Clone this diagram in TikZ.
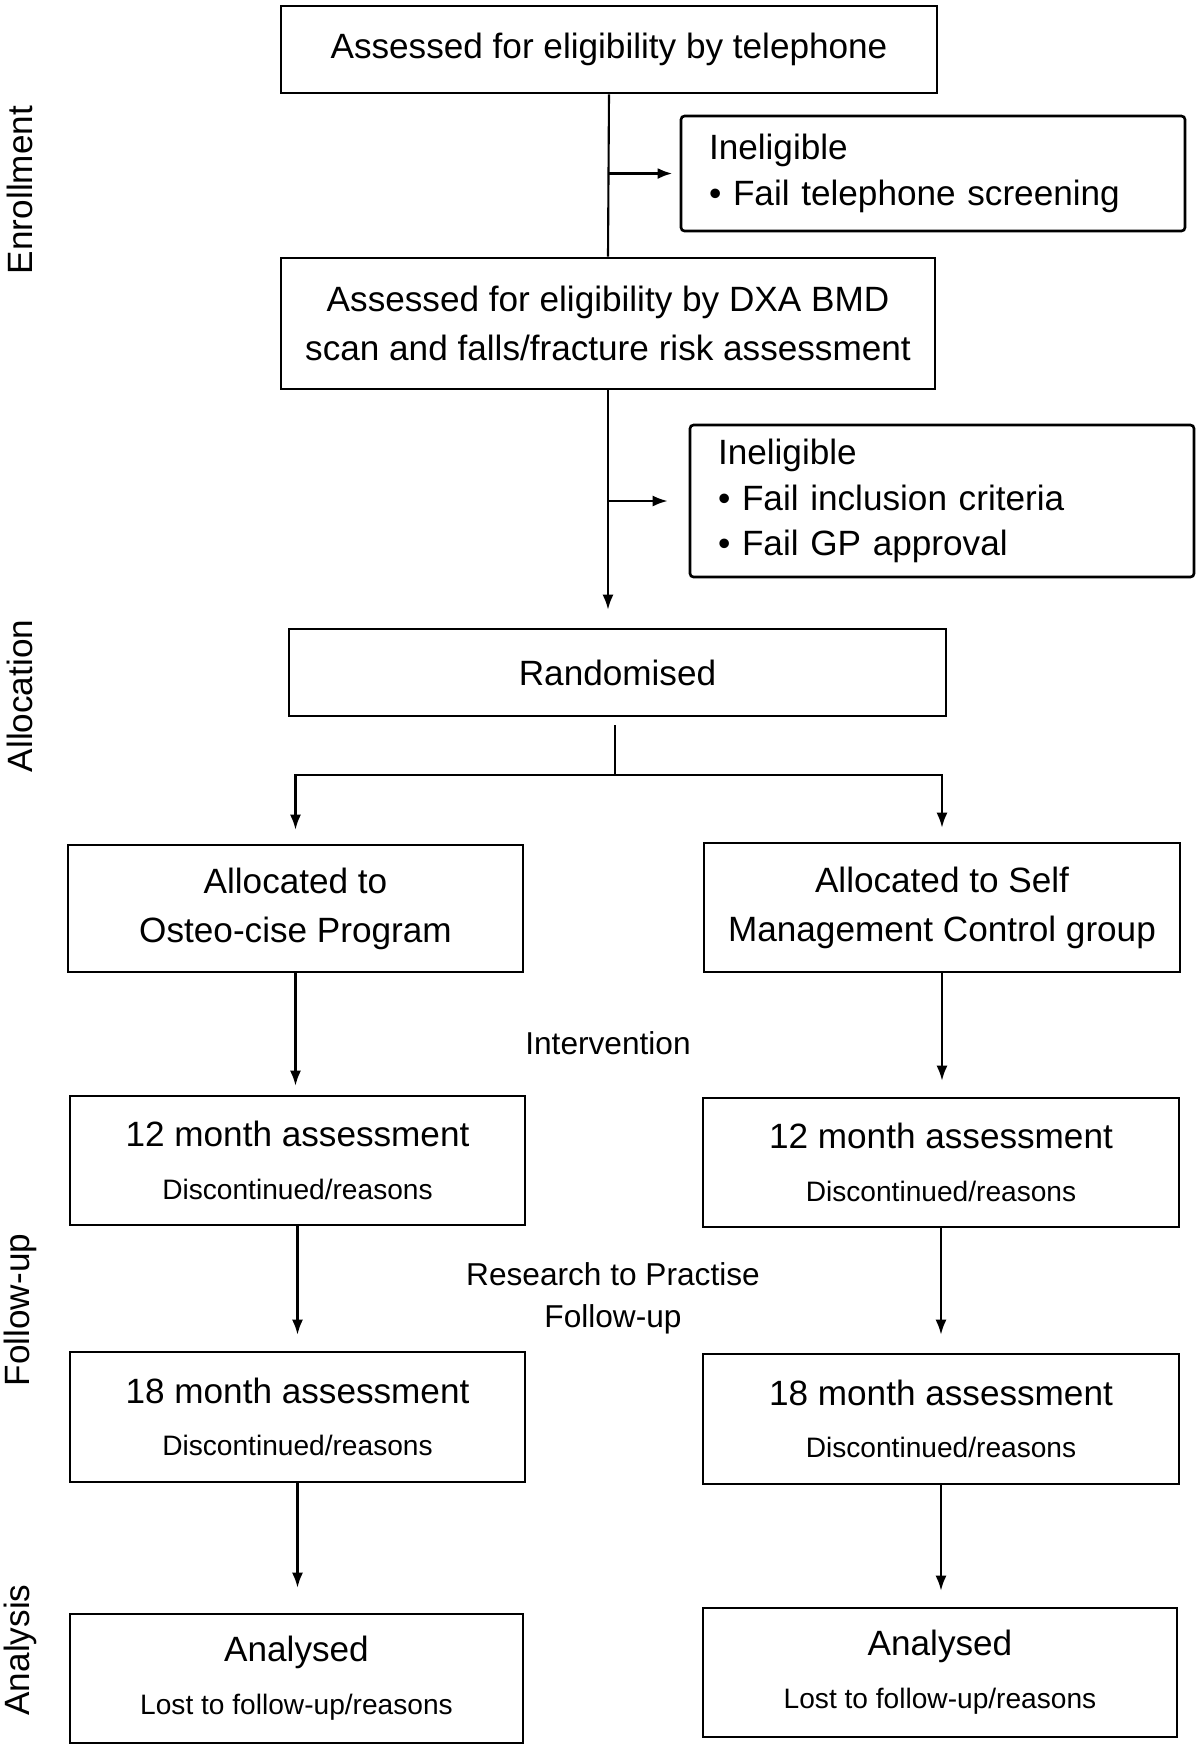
\documentclass[tikz,border=0pt]{standalone}
\usepackage{fontspec}
\setmainfont{Liberation Sans}
\usetikzlibrary{arrows.meta}
\tikzset{
  box/.style={draw, line width=0.75pt, align=center, inner sep=0pt, font=\fontsize{10}{14}\selectfont},
  twobox/.style={box, font=\fontsize{10}{15}\selectfont},
  inelbox/.style={draw, line width=0.75pt, rounded corners=1pt, align=left, inner xsep=0.28cm, inner ysep=0pt, text width=4.48cm, font=\fontsize{10}{13}\selectfont},
  note/.style={align=center, font=\fontsize{9}{12}\selectfont},
  side/.style={rotate=90, font=\fontsize{10}{12}\selectfont},
  conn/.style={line width=0.6pt},
  arrow/.style={conn, -{Latex[length=1.5mm,width=1.1mm]}}
}
\newcommand{\subreason}[1]{{\fontsize{8}{8}\selectfont #1}}
\begin{document}
\begin{tikzpicture}
            \useasboundingbox (0,0) rectangle (12,-17.48);
            \begin{scope}
                \node[name=tel, box, minimum width=6.56cm, minimum height=0.87cm] at (6.09,-0.495) (tel) {Assessed for eligibility by telephone};
                \node[name=inel1, inelbox, minimum height=1.15cm] at (9.33,-1.735) (inel1) {Ineligible\\\textbullet\ Fail telephone screening};
                \node[name=dxa, box, minimum width=6.54cm, minimum height=1.31cm] at (6.08,-3.235) (dxa) {Assessed for eligibility by DXA BMD\\scan and falls/fracture risk assessment};
                \node[name=inel2, inelbox, minimum height=1.52cm] at (9.42,-5.01) (inel2) {Ineligible\\\textbullet\ Fail inclusion criteria\\\textbullet\ Fail GP approval};
                \node[name=rand, box, minimum width=6.57cm, minimum height=0.87cm] at (6.175,-6.725) (rand) {Randomised};
                \node[name=allocL, box, minimum width=4.55cm, minimum height=1.27cm] at (2.955,-9.085) (allocL) {Allocated to\\Osteo-cise Program};
                \node[name=allocR, box, minimum width=4.76cm, minimum height=1.29cm] at (9.42,-9.075) (allocR) {Allocated to Self\\Management Control group};
                \node[name=m12L, twobox, minimum width=4.55cm, minimum height=1.29cm] at (2.975,-11.605) (m12L) {12 month assessment\\\subreason{Discontinued/reasons}};
                \node[name=m12R, twobox, minimum width=4.76cm, minimum height=1.29cm] at (9.41,-11.625) (m12R) {12 month assessment\\\subreason{Discontinued/reasons}};
                \node[name=m18L, twobox, minimum width=4.55cm, minimum height=1.30cm] at (2.975,-14.17) (m18L) {18 month assessment\\\subreason{Discontinued/reasons}};
                \node[name=m18R, twobox, minimum width=4.76cm, minimum height=1.30cm] at (9.41,-14.19) (m18R) {18 month assessment\\\subreason{Discontinued/reasons}};
                \node[name=anL, twobox, minimum width=4.53cm, minimum height=1.29cm] at (2.965,-16.785) (anL) {Analysed\\\subreason{Lost to follow-up/reasons}};
                \node[name=anR, twobox, minimum width=4.74cm, minimum height=1.29cm] at (9.40,-16.725) (anR) {Analysed\\\subreason{Lost to follow-up/reasons}};
                \node[name=interv, note] at (6.08,-10.43) (interv) {Intervention};
                \node[name=rtp, note] at (6.13,-12.98) (rtp) {Research to Practise\\Follow-up};
                \node[name=enrol, side] at (0.20,-1.90) (enrol) {Enrollment};
                \node[name=alloc, side] at (0.20,-6.96) (alloc) {Allocation};
                \node[name=follow, side] at (0.20,-13.10) (follow) {Follow-up};
                \node[name=analysis, side] at (0.20,-16.50) (analysis) {Analysis};
                \coordinate (split) at (6.15,-7.75);
                \draw[conn] (tel.south) -- (dxa.south |- dxa.north);
                \draw[arrow, line width=1.1pt, shorten >=0.07cm] (tel.south |- inel1.west) -- (inel1.west);
                \draw[arrow, shorten >=0.18cm] (dxa.south) -- (dxa.south |- rand.north);
                \draw[arrow, shorten >=0.21cm] (dxa.south |- inel2.west) -- (inel2.west);
                \draw[conn] ([yshift=-0.08cm]split |- rand.south) -- (split);
                \draw[arrow, shorten >=0.14cm] (split) -| (allocL.north);
                \draw[arrow, shorten >=0.14cm] (split) -| (allocR.north);
                \draw[arrow, shorten >=0.09cm] (allocL.south) -- (allocL.south |- m12L.north);
                \draw[arrow, shorten >=0.16cm] (allocR.south) -- (allocR.south |- m12R.north);
                \draw[arrow, shorten >=0.16cm] (m12L.south) -- (m12L.south |- m18L.north);
                \draw[arrow, shorten >=0.18cm] (m12R.south) -- (m12R.south |- m18R.north);
                \draw[arrow, shorten >=0.25cm] (m18L.south) -- (m18L.south |- anL.north);
                \draw[arrow, shorten >=0.16cm] (m18R.south) -- (m18R.south |- anR.north);
            \end{scope}
\end{tikzpicture}
\end{document}
